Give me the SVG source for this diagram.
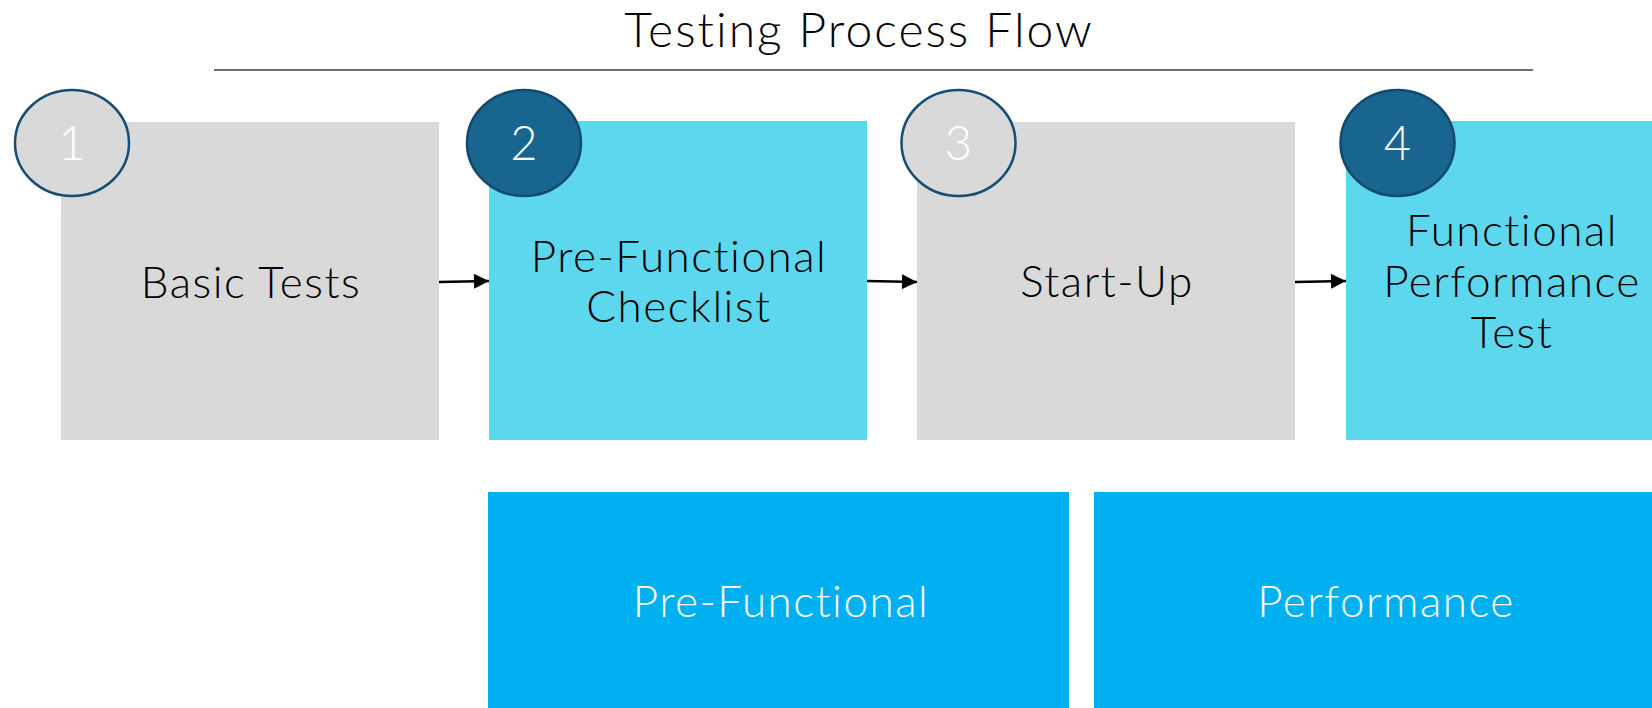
<svg xmlns="http://www.w3.org/2000/svg" width="1652" height="708" viewBox="0 0 1652 708">
  <style>
    .lbl { font-family: Lato, "Liberation Sans", sans-serif; font-weight: 300; text-anchor: middle; }
    .step { font-size: 44px; fill: #000; letter-spacing: 1.5px; }
    .num { font-size: 47px; fill: #fff; }
    .band { font-size: 44px; fill: #fff; letter-spacing: 1.5px; }
    .gray { fill: #D9D9D9; }
    .cyan { fill: #5DD7EE; }
    .blue { fill: #00B0F0; }
    .badge-light { fill: #D9D9D9; stroke: #164E73; stroke-width: 2.5; }
    .badge-dark { fill: #18658F; stroke: #124A6E; stroke-width: 2.5; }
    .conn { stroke: #000; stroke-width: 2.5; fill: none; marker-end: url(#arrow); }
  </style>
  <defs>
    <marker id="arrow" viewBox="0 0 10 10" refX="10" refY="5" markerUnits="userSpaceOnUse" markerWidth="16" markerHeight="15" orient="auto">
      <path d="M0,0 L10,5 L0,10 Z" fill="#000"/>
    </marker>
  </defs>
  <rect width="1652" height="708" fill="#fff"/>

  <g id="title">
    <text class="lbl" x="859" y="47" font-size="48" letter-spacing="2" fill="#000">Testing Process Flow</text>
    <line x1="214" y1="70" x2="1533" y2="70" stroke="#404040" stroke-width="1.5"/>
  </g>

  <g id="step1">
    <rect class="gray" x="61" y="122" width="378" height="318"/>
    <text class="lbl step" x="251" y="298">Basic Tests</text>
    <ellipse class="badge-light" cx="72" cy="143" rx="57" ry="53"/>
    <text class="lbl num" x="72" y="160">1</text>
  </g>

  <g id="step2">
    <rect class="cyan" x="489" y="121" width="378" height="319"/>
    <text class="lbl step" x="679" y="272">Pre-Functional</text>
    <text class="lbl step" x="679" y="322">Checklist</text>
    <ellipse class="badge-dark" cx="524" cy="143" rx="57" ry="53"/>
    <text class="lbl num" x="524" y="160">2</text>
  </g>

  <g id="step3">
    <rect class="gray" x="917" y="122" width="378" height="318"/>
    <text class="lbl step" x="1107" y="297">Start-Up</text>
    <ellipse class="badge-light" cx="958.5" cy="143" rx="57" ry="53"/>
    <text class="lbl num" x="958.5" y="160">3</text>
  </g>

  <g id="step4">
    <rect class="cyan" x="1346" y="121" width="306" height="319"/>
    <text class="lbl step" x="1512" y="246">Functional</text>
    <text class="lbl step" x="1512" y="297">Performance</text>
    <text class="lbl step" x="1512" y="348">Test</text>
    <ellipse class="badge-dark" cx="1397.5" cy="143" rx="57" ry="53"/>
    <text class="lbl num" x="1397.5" y="160">4</text>
  </g>

  <g id="phase-prefunctional">
    <rect class="blue" x="488" y="492" width="581" height="216"/>
    <text class="lbl band" x="781" y="617">Pre-Functional</text>
  </g>

  <g id="phase-performance">
    <rect class="blue" x="1094" y="492" width="558" height="216"/>
    <text class="lbl band" x="1386" y="617">Performance</text>
  </g>

  <g id="connectors">
    <line class="conn" x1="439" y1="282" x2="489" y2="281"/>
    <line class="conn" x1="867" y1="281" x2="917" y2="282"/>
    <line class="conn" x1="1295" y1="282" x2="1346" y2="281"/>
  </g>
</svg>
